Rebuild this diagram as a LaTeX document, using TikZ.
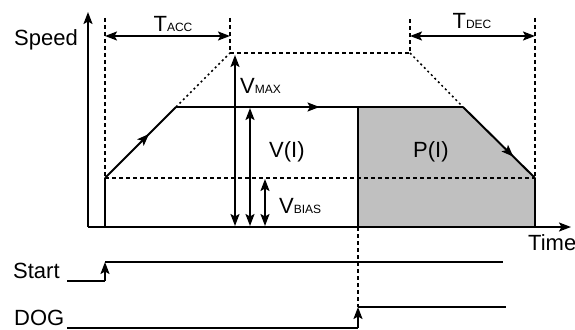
\documentclass[tikz,border=0pt]{standalone}
\usepackage{fontspec}
\setmainfont{Liberation Sans}
\usetikzlibrary{arrows.meta, positioning, calc, decorations.markings}
\definecolor{areagray}{HTML}{C0C0C0}
\newcommand{\lowcaps}[1]{{\fontsize{12}{14}\selectfont #1}}

\begin{document}
\begin{tikzpicture}[
    x=1pt, y=-1pt,
    lbl/.style={inner sep=0pt, font=\fontsize{22}{26}\selectfont},
    line/.style={line width=2pt},
    guide/.style={line width=1.8pt, dash pattern=on 4pt off 3pt},
    slope/.style={line width=1.5pt, dash pattern=on 2pt off 3pt},
    arrow/.style={line width=2pt, -{Stealth[length=12pt, width=9pt, inset=2.5pt]}},
    span/.style={line width=2pt, {Stealth[length=12pt, width=9pt, inset=2.5pt]}-{Stealth[length=12pt, width=9pt, inset=2.5pt]}},
    midarrow/.style={decoration={markings, mark=at position #1 with {\arrow{Stealth[length=12pt, width=9pt, inset=2.5pt]}}}, postaction={decorate}}
]
\useasboundingbox (0,0) rectangle (575,329);

% axes
\coordinate (origin) at (88,227);
\coordinate (ytip) at (88,12);
\coordinate (xtip) at (571,227);

% profile points
\coordinate (p0) at (105,227);
\coordinate (p1) at (105,178);
\coordinate (p2) at (176,107);
\coordinate (p3) at (463,107);
\coordinate (p4) at (535,178);
\coordinate (p5) at (535,227);
\coordinate (q0) at (358,227);
\coordinate (q1) at (358,107);

% guide points
\coordinate (acctop) at (105,18);
\coordinate (maxl) at (230,53);
\coordinate (maxltop) at (230,18);
\coordinate (maxr) at (410,53);
\coordinate (maxrtop) at (410,18);
\coordinate (dectop) at (535,18);

% shaded area
\fill[areagray] (q0) -- (q1) -- (p3) -- (p4) -- (p5) -- cycle;

% dashed guides
\draw[guide] (acctop) -- (p1);
\draw[guide] (maxltop) -- (maxl) -- (maxr) -- (maxrtop);
\draw[guide] (dectop) -- (p4);
\draw[guide] (p1) -- (p4);
\draw[slope] (p2) -- (maxl);
\draw[slope] (maxr) -- (p3);

% speed profile
\draw[line] (p0) -- (p1);
\draw[line, midarrow=0.62] (p1) -- (p2);
\draw[line, midarrow=0.5] (p2) -- (p3);
\draw[line, midarrow=0.7] (p3) -- (p4);
\draw[line] (p4) -- (p5);
\draw[line] (q0) -- (q1);

% axes
\draw[arrow] (origin) -- (ytip);
\draw[arrow] (origin) -- (xtip);

% time spans
\coordinate (accl) at (105,36);
\coordinate (accr) at (230,36);
\coordinate (decl) at (410,36);
\coordinate (decr) at (535,36);
\draw[span] (accl) -- (accr);
\draw[span] (decl) -- (decr);
\node[lbl, anchor=base] (tacc) at (173,32) {T\lowcaps{ACC}};
\node[lbl, anchor=base] (tdec) at (472,29) {T\lowcaps{DEC}};

% speed levels
\coordinate (vmaxtop) at (235,55);
\coordinate (vmaxbot) at (235,226);
\coordinate (vitop) at (250,108);
\coordinate (vibot) at (250,226);
\coordinate (vbiastop) at (265,179);
\coordinate (vbiasbot) at (265,226);
\draw[span] (vmaxtop) -- (vmaxbot);
\draw[span] (vitop) -- (vibot);
\draw[span] (vbiastop) -- (vbiasbot);
\node[lbl, anchor=base west] (vmax) at (240,93) {V\lowcaps{MAX}};
\node[lbl, anchor=base west] (vi) at (269,157) {V(I)};
\node[lbl, anchor=base west] (vbias) at (279,213) {V\lowcaps{BIAS}};
\node[lbl, anchor=base west] (pi) at (413,157) {P(I)};

\node[lbl, anchor=base east] (speed) at (78,46) {Speed};
\node[lbl, anchor=base west] (time) at (528,250) {Time};

% input signals
\node[lbl, anchor=base west] (start) at (13,278) {Start};
\node[lbl, anchor=base west] (dog) at (14,325) {DOG};
\coordinate (startin) at (67,281);
\coordinate (startlow) at (105,281);
\coordinate (starthigh) at (105,262);
\coordinate (startend) at (503,262);
\coordinate (dogin) at (67,328);
\coordinate (doglow) at (358,328);
\coordinate (doghigh) at (358,307);
\coordinate (dogend) at (506,307);

\draw[line] (startin) -- (startlow);
\draw[arrow] (startlow) -- (starthigh);
\draw[line] (starthigh) -- (startend);
\draw[line] (dogin) -- (doglow);
\draw[arrow] (doglow) -- (doghigh);
\draw[line] (doghigh) -- (dogend);
\draw[guide] (q0) -- (doghigh);
\end{tikzpicture}
\end{document}
